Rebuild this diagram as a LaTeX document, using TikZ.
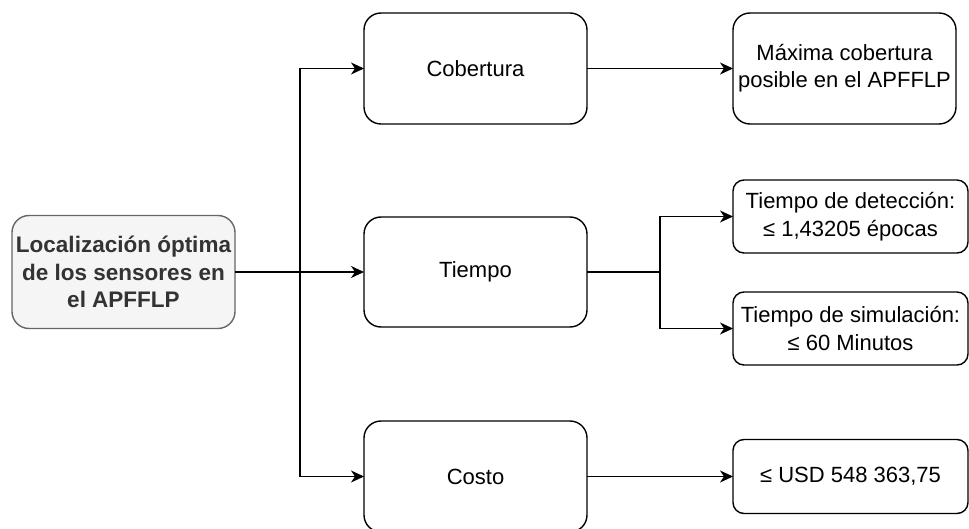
\documentclass[tikz,border=0pt]{standalone}
\usepackage{fontspec}
\setmainfont{Liberation Sans}
\usetikzlibrary{arrows.meta}
\definecolor{boxgray}{HTML}{666666}
\definecolor{boxfill}{HTML}{F5F5F5}
\definecolor{txtgray}{HTML}{333333}
\begin{document}
\begin{tikzpicture}[x=1pt,y=-1pt,
  bigbox/.style={draw=black, line width=1.4pt, rounded corners=17pt, minimum width=223pt, minimum height=111pt, inner sep=0pt, outer sep=0pt, align=center, font=\fontsize{22}{27}\selectfont},
  smallbox/.style={draw=black, line width=1.4pt, rounded corners=11pt, minimum width=235pt, minimum height=73pt, inner sep=0pt, outer sep=0pt, align=center, font=\fontsize{22}{28}\selectfont},
  rootbox/.style={draw=boxgray, fill=boxfill, text=txtgray, line width=1.4pt, rounded corners=17pt, minimum width=223pt, minimum height=113pt, inner sep=0pt, outer sep=0pt, align=center, font=\fontsize{22.5}{27.5}\selectfont\bfseries},
  conn/.style={draw=black, line width=1.4pt},
  arr/.style={conn, -{Stealth[length=13pt,width=12pt,inset=4pt]}}
]
\useasboundingbox (0,0) rectangle (969,529);

\node[rootbox] (loc) at (123.5,272) {Localización óptima\\de los sensores en\\el APFFLP};
\node[bigbox] (cob) at (475.5,68.5) {Cobertura};
\node[bigbox, minimum height=110pt] (tie) at (475.5,272) {Tiempo};
\node[bigbox] (cos) at (475.5,476.5) {Costo};
\node[bigbox] (max) at (844.5,68.5) {Máxima cobertura\\posible en el APFFLP};
\node[smallbox] (det) at (850.5,216.5) {Tiempo de detección:\\≤ 1,43205 épocas};
\node[smallbox] (sim) at (850.5,328.5) {Tiempo de simulación:\\≤ 60 Minutos};
\node[smallbox, minimum height=74pt] (usd) at (850.5,476.5) {≤ USD 548 363,75};

\coordinate (jt) at (300,68.5);
\coordinate (jb) at (300,476.5);
\coordinate (k) at (660,272);

\draw[conn] (jt) -- (jb);
\draw[arr] (loc.east) -- (tie.west);
\draw[arr] (jt) -- (cob.west);
\draw[arr] (jb) -- (cos.west);
\draw[arr] (cob.east) -- (max.west);
\draw[conn] (tie.east) -- (k);
\draw[arr] (k) |- (det.west);
\draw[arr] (k) |- (sim.west);
\draw[arr] (cos.east) -- (usd.west);
\end{tikzpicture}
\end{document}
